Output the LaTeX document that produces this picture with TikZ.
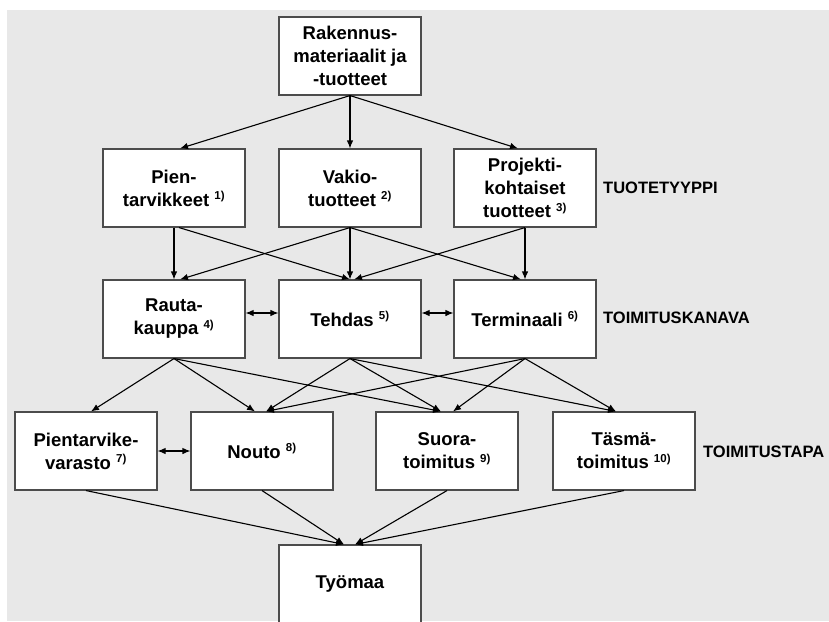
\documentclass[tikz,border=0pt]{standalone}
\usepackage{fontspec}
\setmainfont{Liberation Sans}
\usetikzlibrary{arrows.meta}
\newcommand{\refno}[1]{\textsuperscript{\fontsize{11.5}{11.5}\selectfont #1)}}
\begin{document}
\begin{tikzpicture}[x=1pt, y=-1pt,
	box/.style={draw=black!70, line width=1.1pt, fill=white, minimum width=142pt, minimum height=78pt, align=center, inner sep=2pt, font=\fontsize{18.5}{23}\selectfont\bfseries},
	lbl/.style={anchor=west, inner sep=0pt, font=\fontsize{16.5}{20}\selectfont\bfseries},
	arr/.style={-{Latex[length=8pt,width=6.5pt]}, line width=1.1pt},
	darr/.style={{Latex[length=8pt,width=6.5pt]}-{Latex[length=8pt,width=6.5pt]}, line width=1.1pt}]
	\useasboundingbox (0,0) rectangle (829,621);
	\fill[black!9] (7,10) rectangle (829,621);
	\node[box] (mat)     at (350,56)  {Rakennus-\\materiaalit ja\\-tuotteet};
	\node[box] (pien)    at (174,188) {Pien-\\tarvikkeet \refno{1}};
	\node[box] (vakio)   at (350,188) {Vakio-\\tuotteet \refno{2}};
	\node[box] (proj)    at (525,188) {Projekti-\\kohtaiset\\tuotteet \refno{3}};
	\node[box] (rauta)   at (174,319) {Rauta-\\kauppa \refno{4}};
	\node[box] (tehdas)  at (350,319) {Tehdas \refno{5}};
	\node[box] (term)    at (525,319) {Terminaali \refno{6}};
	\node[box] (varasto) at (86,451)  {Pientarvike-\\varasto \refno{7}};
	\node[box] (nouto)   at (262,451) {Nouto \refno{8}};
	\node[box] (suora)   at (447,451) {Suora-\\toimitus \refno{9}};
	\node[box] (tasma)   at (624,451) {Täsmä-\\toimitus \refno{10}};
	\node[box] (tyomaa)  at (350,584) {Työmaa};
	\node[lbl] (tyyppi)  at (603,188) {TUOTETYYPPI};
	\node[lbl] (kanava)  at (603,318) {TOIMITUSKANAVA};
	\node[lbl] (tapa)    at (703,452) {TOIMITUSTAPA};
	\draw[arr] (mat.south) -- ([xshift=6pt]pien.north);
	\draw[arr] (mat.south) -- (vakio.north);
	\draw[arr] (mat.south) -- ([xshift=-7pt]proj.north);
	\draw[arr] (pien.south) -- (rauta.north);
	\draw[arr] ([xshift=5pt]pien.south) -- (tehdas.north);
	\draw[arr] (vakio.south) -- ([xshift=6pt]rauta.north);
	\draw[arr] (vakio.south) -- (tehdas.north);
	\draw[arr] (vakio.south) -- ([xshift=-4pt]term.north);
	\draw[arr] (proj.south) -- ([xshift=4pt]tehdas.north);
	\draw[arr] (proj.south) -- (term.north);
	\draw[darr] ([yshift=6pt]rauta.east) -- ([yshift=6pt]tehdas.west);
	\draw[darr] ([yshift=6pt]tehdas.east) -- ([yshift=6pt]term.west);
	\draw[darr] (varasto.east) -- (nouto.west);
	\draw[arr] (rauta.south) -- ([xshift=5pt]varasto.north);
	\draw[arr] (rauta.south) -- ([xshift=-7pt]nouto.north);
	\draw[arr] (rauta.south) -- ([xshift=-6pt]suora.north);
	\draw[arr] (tehdas.south) -- ([xshift=4pt]nouto.north);
	\draw[arr] (tehdas.south) -- ([xshift=-6pt]suora.north);
	\draw[arr] (tehdas.south) -- ([xshift=-8pt]tasma.north);
	\draw[arr] (term.south) -- ([xshift=4pt]nouto.north);
	\draw[arr] (term.south) -- ([xshift=6pt]suora.north);
	\draw[arr] (term.south) -- ([xshift=-8pt]tasma.north);
	\draw[arr] (varasto.south) -- ([xshift=-6pt]tyomaa.north);
	\draw[arr] (nouto.south) -- ([xshift=-6pt]tyomaa.north);
	\draw[arr] (suora.south) -- ([xshift=5pt]tyomaa.north);
	\draw[arr] (tasma.south) -- ([xshift=5pt]tyomaa.north);
\end{tikzpicture}
\end{document}
